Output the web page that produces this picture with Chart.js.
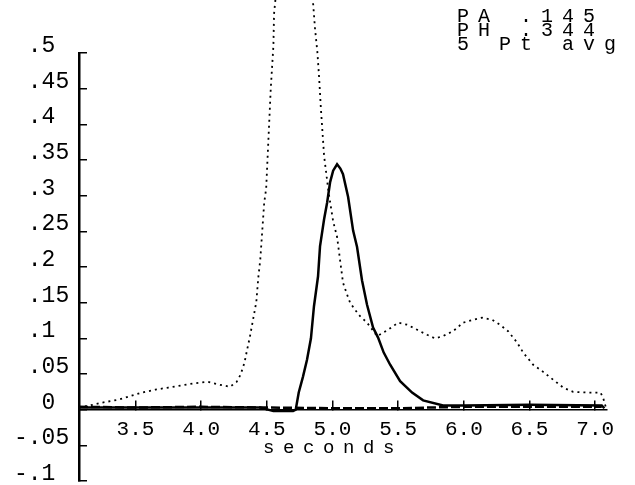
<!DOCTYPE html>
<html>
<head>
<meta charset="utf-8">
<script src="https://cdn.jsdelivr.net/npm/chart.js@4.4.1/dist/chart.umd.min.js"></script>
<style>
  body { margin: 0; background: #fff; }
  #wrap { width: 635px; height: 485px; }
</style>
</head>
<body>
<div id="wrap"><canvas id="plot"></canvas></div>
<script>
// dotted trace (seconds / value)
var dottedT = [3.07,3.18,3.25,3.37,3.46,3.55,3.65,3.75,3.85,3.95,4.05,4.14,4.22,4.27,4.30,4.33,4.35,4.37,4.395,4.42,4.435,4.45,4.465,4.48,4.495,4.50,4.51,4.52,4.53,4.54,4.55,4.555,
  4.60,4.66,4.72,4.78,4.83,4.854,4.867,4.885,4.898,4.911,4.925,4.936,4.97,5.005,5.035,5.08,5.11,5.134,5.172,5.21,5.263,5.34,
  5.423,5.50,5.57,5.645,5.72,5.78,5.84,5.918,5.995,6.07,6.14,6.215,6.276,6.337,6.406,6.452,6.528,6.604,6.68,6.756,6.832,6.94,7.04,7.06,7.08];
var dottedV = [.003,.007,.010,.014,.019,.024,.028,.031,.034,.037,.039,.035,.032,.039,.049,.066,.084,.101,.126,.151,.185,.210,.250,.290,.310,.330,.370,.410,.450,.480,.510,.555,
  .640,.720,.740,.700,.620,.566,.534,.501,.466,.424,.386,.356,.305,.264,.242,.178,.162,.150,.140,.131,.122,.103,
  .112,.122,.119,.112,.105,.100,.103,.110,.122,.126,.129,.126,.119,.110,.094,.080,.063,.053,.042,.031,.025,.024,.024,.017,.004];

// solid trace, PH .344
var solidT = [3.07,3.5,4.0,4.45,4.55,4.70,4.72,4.743,4.775,4.806,4.836,4.859,4.89,4.905,4.936,4.959,4.982,5.005,5.035,5.06,5.08,5.119,5.157,5.187,5.225,5.263,5.309,5.347,5.39,5.439,5.515,5.606,5.69,5.842,6.0,6.5,7.05,7.07];
var solidV = [.003,.003,.003,.003,-.002,-.002,.000,.024,.046,.070,.100,.145,.187,.229,.267,.290,.319,.335,.344,.338,.330,.298,.251,.228,.181,.147,.115,.101,.080,.063,.040,.024,.013,.006,.006,.007,.006,.002];

// near-zero dashed trace
var baseT = [3.07,3.5,4.0,4.5,5.0,5.5,6.0,6.5,7.05];
var baseV = [.004,.003,.004,.003,.002,.002,.004,.004,.004];

var xTicks = [3.5,4.0,4.5,5.0,5.5,6.0,6.5,7.0];
var yTicks = [-0.1,-0.05,0,0.05,0.1,0.15,0.2,0.25,0.3,0.35,0.4,0.45,0.5];
var yTickLabels = ['-.1','-.05','  0',' .05',' .1',' .15',' .2',' .25',' .3',' .35',' .4',' .45',' .5'];
var noteLines = ['PA .145 ', 'PH .344 ', '5 Pt avg'];

function pts(t, v) {
  return t.map(function (x, i) { return {x: x, y: v[i]}; });
}

// plotter style wide text: letter spacing on the title block and the x title
function spaced(chart, obj, method, px, dx) {
  if (!obj || obj['_sp_' + method]) return;
  var orig = obj[method];
  obj[method] = function () {
    var ctx = chart.ctx;
    ctx.save();
    ctx.letterSpacing = px + 'px';
    ctx.translate(dx, 0);
    orig.apply(this, arguments);
    ctx.restore();
  };
  obj['_sp_' + method] = true;
}
var spacing = {
  id: 'spacing',
  afterLayout: function (chart) {
    spaced(chart, chart.titleBlock, 'draw', 9, 0);
    spaced(chart, chart.scales.x, 'drawTitle', 8.6, -10);
  }
};

var mono = 'Liberation Mono';

var plot = new Chart(document.getElementById('plot'), {
  type: 'line',
  data: {
    datasets: [
      {
        data: pts(dottedT, dottedV),
        borderColor: '#000',
        borderWidth: 1.8,
        borderDash: [2, 4],
        pointRadius: 0,
        clip: false
      },
      {
        data: pts(solidT, solidV),
        borderColor: '#000',
        borderWidth: 2.5,
        pointRadius: 0
      },
      {
        data: pts(baseT, baseV),
        borderColor: '#000',
        borderWidth: 2.5,
        borderDash: [9, 3],
        pointRadius: 0
      }
    ]
  },
  options: {
    responsive: true,
    maintainAspectRatio: false,
    animation: false,
    layout: { padding: { top: 0, right: 10, bottom: 4, left: 14 } },
    plugins: {
      legend: { display: false },
      tooltip: { enabled: false },
      title: {
        display: true,
        text: noteLines,
        align: 'end',
        color: '#000',
        font: { family: mono, size: 20, weight: 'normal', lineHeight: '14px' },
        padding: { top: 10, bottom: 1 }
      }
    },
    scales: {
      x: {
        type: 'linear',
        min: 3.07,
        max: 7.09,
        position: { y: 0 },
        afterBuildTicks: function (scale) {
          scale.ticks = xTicks.map(function (v) { return {value: v}; });
        },
        afterFit: function (scale) {
          scale.height = 0;
          scale.paddingLeft = 0;
          scale.paddingRight = 28;
        },
        ticks: {
          color: '#000',
          font: { family: mono, size: 21 },
          padding: 17,
          autoSkip: false,
          maxRotation: 0,
          minRotation: 0,
          callback: function (v) { return v.toFixed(1); }
        },
        grid: { drawOnChartArea: false, drawTicks: true, tickLength: -10, color: '#000', lineWidth: 1.5 },
        border: { display: true, color: '#000', width: 1.5 },
        title: {
          display: true,
          text: 'seconds',
          color: '#000',
          font: { family: mono, size: 19 },
          padding: { top: 0, bottom: -50 }
        }
      },
      y: {
        type: 'linear',
        min: -0.1,
        max: 0.5,
        afterBuildTicks: function (scale) {
          scale.ticks = yTicks.map(function (v) { return {value: v}; });
        },
        afterFit: function (scale) {
          scale.width = 65;
          scale.paddingTop = 0;
          scale.paddingBottom = 0;
        },
        ticks: {
          color: '#000',
          font: { family: mono, size: 23 },
          crossAlign: 'far',
          labelOffset: -7,
          callback: function (v) {
            for (var i = 0; i < yTicks.length; i++) {
              if (Math.abs(yTicks[i] - v) < 1e-9) return yTickLabels[i];
            }
            return '';
          }
        },
        grid: { drawOnChartArea: false, drawTicks: true, tickLength: -8, color: '#000', lineWidth: 1.5 },
        border: { display: true, color: '#000', width: 2.5 }
      }
    }
  },
  plugins: [spacing]
});
</script>
</body>
</html>
